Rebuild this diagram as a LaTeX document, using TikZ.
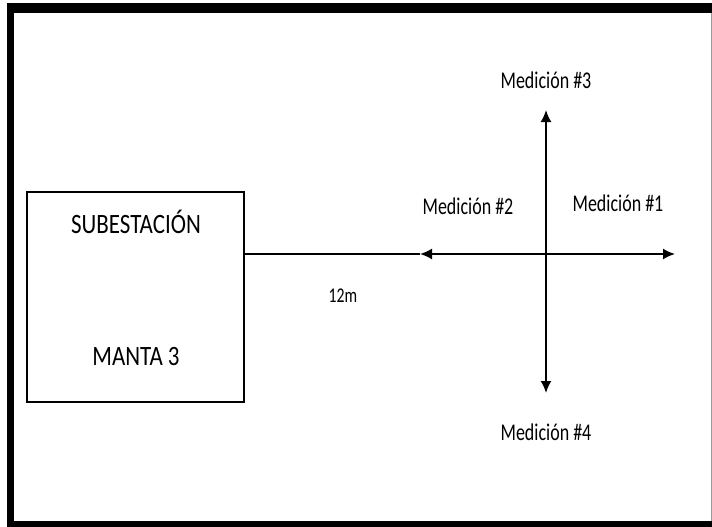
\documentclass[tikz,border=0pt]{standalone}
\usepackage{fontspec}
\setmainfont{Carlito}[FakeStretch=0.75]
\newfontfamily\boxfont{Carlito}[FakeStretch=0.82]
\usetikzlibrary{arrows.meta}
\begin{document}
\begin{tikzpicture}[x=1pt,y=-1pt,
  lbl/.style={inner sep=0pt,font=\fontsize{24}{26}\selectfont,text=black},
  boxtxt/.style={inner sep=0pt,font=\boxfont\fontsize{28}{30}\selectfont,text=black},
  arr/.style={line width=1.8pt,-{Latex[length=12pt,width=11pt]}},
  line/.style={line width=1.4pt}]
\useasboundingbox (0,0) rectangle (712,527);
\fill[white] (0,0) rectangle (712,527);
% frame
\fill[black] (7,3) rectangle (14,527);
\fill[black] (7,3) rectangle (712,13);
\fill[black] (7,521) rectangle (712,527);
\draw[black!40,line width=1pt] (711,13) -- (711,521);
% box
\node[draw,line width=1.4pt,minimum width=217pt,minimum height=210pt,inner sep=0pt] (sub) at (135.5,297) {};
\node[boxtxt] (t1) at (136,222) {SUBESTACIÓN};
\node[boxtxt] (t2) at (136,357) {MANTA 3};
% arrows
\coordinate (c) at (546,254);
\coordinate (r) at (675,254);
\coordinate (l) at (420,254);
\coordinate (u) at (546,110);
\coordinate (d) at (546,393);
\draw[line] (sub.east |- l) -- (l);
\draw[arr] (c) -- (r);
\draw[arr] (c) -- (l);
\draw[arr] (c) -- (u);
\draw[arr] (c) -- (d);
% labels
\node[lbl] (m3) at (546,80) {Medición \#3};
\node[lbl] (m2) at (468,206) {Medición \#2};
\node[lbl] (m1) at (618,203) {Medición \#1};
\node[lbl] (m4) at (546,432) {Medición \#4};
\node[lbl,font=\fontsize{21}{23}\selectfont] (d12) at (343,296) {12m};
\end{tikzpicture}
\end{document}
